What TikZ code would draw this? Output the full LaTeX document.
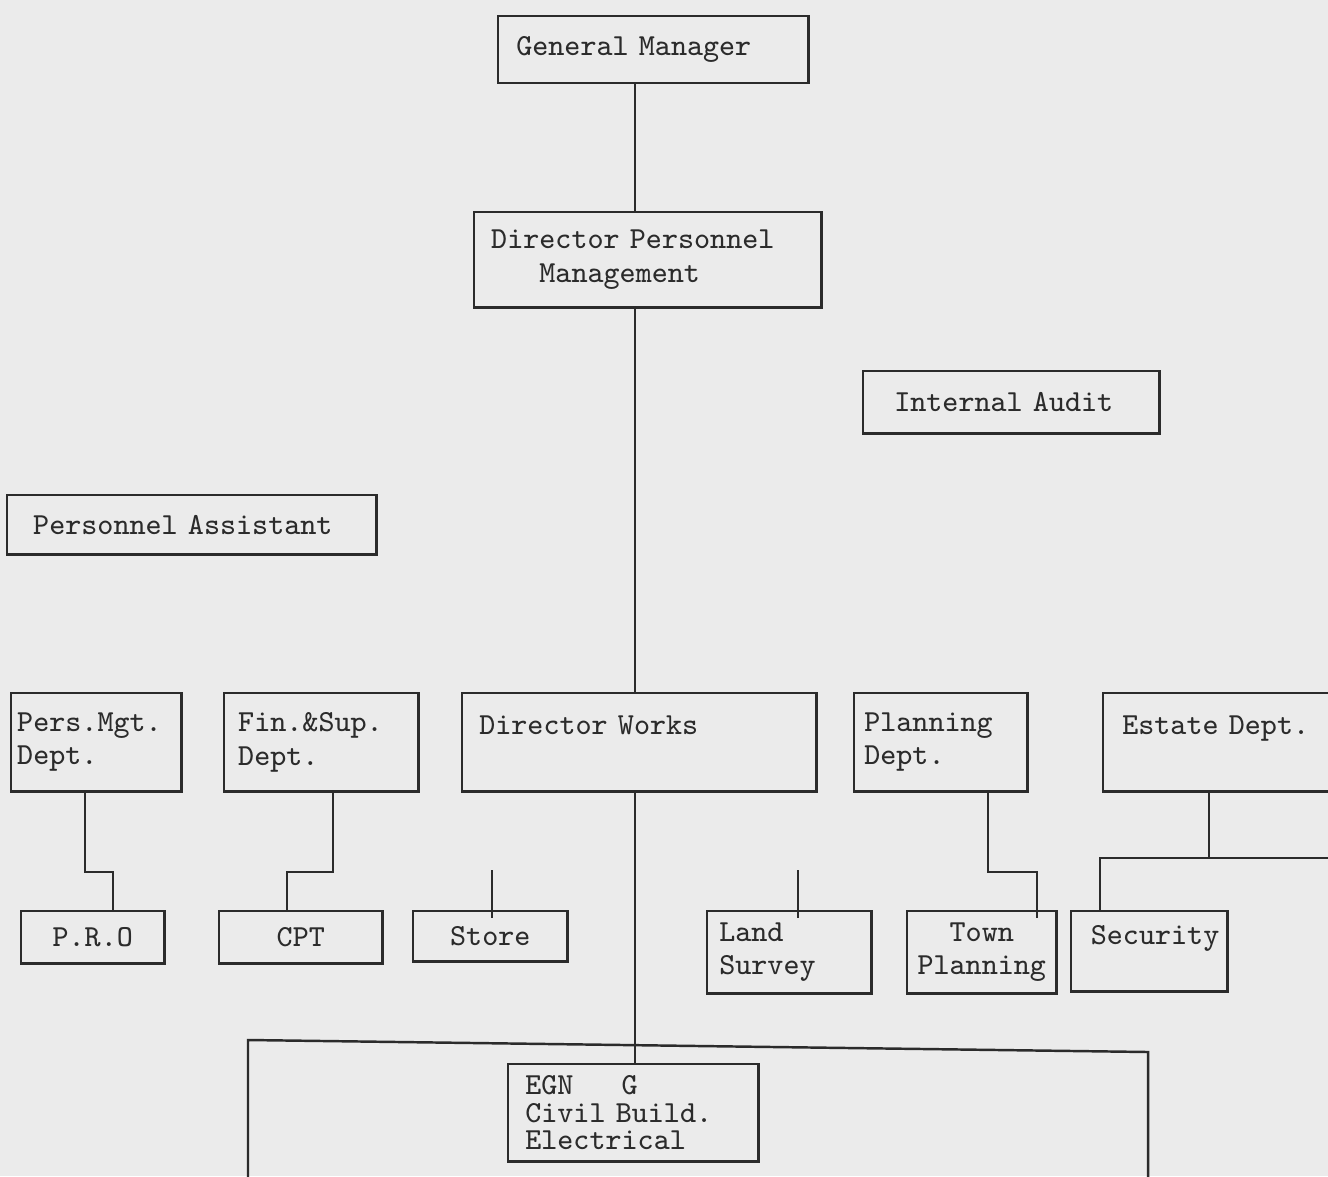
\documentclass[tikz,border=0pt]{standalone}
\usetikzlibrary{calc}
\definecolor{ink}{HTML}{2B2B2B}
\definecolor{paper}{HTML}{EBEBEB}
\newcommand{\tw}{\ttfamily\fontsize{8.7pt}{9.5pt}\selectfont}
\begin{document}
\begin{tikzpicture}[x=0.01cm, y=-0.01cm,
    unit/.style={draw=ink, line width=0.7pt, anchor=north west, inner ysep=0pt,
      text=ink, font=\tw, align=left},
    mid/.style={unit, align=center, inner xsep=0.06cm},
    ln/.style={draw=ink, line width=0.7pt}
  ]
  \fill[paper] (0,0) rectangle (1328,1176);
  \useasboundingbox (0,0) rectangle (1328,1176);

  \node[unit, inner xsep=0.18cm, text width=2.74cm, minimum height=0.67cm] (gm) at (497,15) {General Manager};
  \node[unit, inner xsep=0.17cm, text width=3.13cm, minimum height=0.95cm] (dpm) at (473,211) {Director Personnel\\\phantom{Dir}Management};
  \node[unit, inner xsep=0.31cm, text width=2.34cm, minimum height=0.62cm] (audit) at (862,370) {Internal Audit};
  \node[unit, inner xsep=0.26cm, text width=3.17cm, minimum height=0.59cm] (passt) at (6,494) {Personnel Assistant};

  \node[unit, inner xsep=0.06cm, text width=1.58cm, minimum height=0.98cm] (pmd) at (10,692) {Pers.Mgt.\\Dept.};
  \node[unit, inner xsep=0.14cm, text width=1.66cm, minimum height=0.98cm] (fsd) at (223,692) {Fin.\&Sup.\\Dept.};
  \node[unit, inner xsep=0.17cm, text width=3.20cm, minimum height=0.98cm] (dw) at (461,692) {Director Works\\~};
  \node[unit, inner xsep=0.10cm, text width=1.53cm, minimum height=0.98cm] (pld) at (853,692) {Planning\\Dept.};
  \node[unit, inner xsep=0.19cm, text width=2.00cm, minimum height=0.98cm] (est) at (1102,692) {Estate Dept.\\~};

  \node[mid, text width=1.31cm, minimum height=0.52cm] (pro) at (20,910) {P.R.O};
  \node[mid, text width=1.51cm, minimum height=0.52cm] (cpt) at (218,910) {CPT};
  \node[mid, text width=1.42cm, minimum height=0.50cm] (store) at (412,910) {Store};
  \node[unit, inner xsep=0.12cm, text width=1.40cm, minimum height=0.82cm] (land) at (706,910) {Land\\Survey};
  \node[mid, text width=1.37cm, minimum height=0.82cm] (town) at (906,910) {Town\\Planning};
  \node[unit, align=right, inner xsep=0.08cm, text width=1.40cm, minimum height=0.80cm] (sec) at (1070,910) {Security\\~};

  \node[unit, inner xsep=0.17cm, text width=2.16cm, minimum height=0.97cm,
    font=\ttfamily\fontsize{8.7pt}{7.9pt}\selectfont] (egn) at (507,1063) {EGN\phantom{XXX}G\\Civil Build.\\Electrical};

  \draw[ln] (248,1190) -- (248,1040) -- (1148,1052) -- (1148,1190);

  \coordinate (spine) at (635,0);
  \draw[ln] (gm.south -| spine) -- (dpm.north -| spine);
  \draw[ln] (dpm.south -| spine) -- (dw.north -| spine);
  \draw[ln] (dw.south -| spine) -- (egn.north -| spine);

  \coordinate (a1) at (85,872);
  \coordinate (a2) at (113,872);
  \draw[ln] (pmd.south -| a1) -- (a1) -- (a2) -- (pro.north -| a2);
  \coordinate (b1) at (333,872);
  \coordinate (b2) at (287,872);
  \draw[ln] (fsd.south -| b1) -- (b1) -- (b2) -- (cpt.north -| b2);
  \coordinate (c1) at (492,870);
  \coordinate (d1) at (798,870);
  \foreach \c/\n in {c1/store, d1/land}
    \draw[ln] (\c) -- (\c |- \n.north) -- ++(0,8);
  \coordinate (e1) at (988,872);
  \coordinate (e2) at (1037,872);
  \draw[ln] (pld.south -| e1) -- (e1) -- (e2) -- (e2 |- town.north) -- ++(0,8);
  \coordinate (f1) at (1209,858);
  \coordinate (f2) at (1100,858);
  \coordinate (f3) at (1340,858);
  \draw[ln] (est.south -| f1) -- (f1);
  \draw[ln] (f3) -- (f2) -- (sec.north -| f2);
\end{tikzpicture}
\end{document}
